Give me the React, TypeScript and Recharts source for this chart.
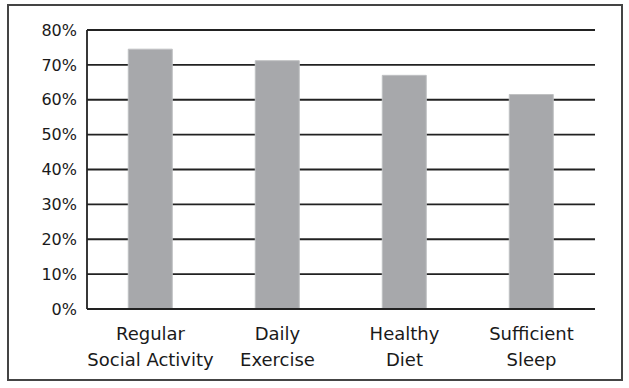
import React from "react";
import { BarChart, Bar, XAxis, YAxis, CartesianGrid } from "recharts";

const categories = ["Regular\nSocial Activity", "Daily\nExercise", "Healthy\nDiet", "Sufficient\nSleep"];
const values = [0.745, 0.712, 0.670, 0.615];
const yTicks = [0, 0.1, 0.2, 0.3, 0.4, 0.5, 0.6, 0.7, 0.8];

const data = categories.map((c, i) => ({ name: c, value: values[i] }));

const FONT = "'DejaVu Sans', Verdana, sans-serif";

const XTick = (props: any) => {
  const { x, y, payload } = props;
  const lines = String(payload.value).split("\n");
  return (
    <text x={x} y={y + 31} textAnchor="middle" fontFamily={FONT} fontSize={18} fill="#1a1a1a">
      {lines.map((l, i) => (
        <tspan key={i} x={x} dy={i === 0 ? 0 : 26}>
          {l}
        </tspan>
      ))}
    </text>
  );
};

export default function App() {
  return (
    <div style={{ position: "absolute", left: 0, top: 0, width: 629, height: 388, background: "#fff" }}>
      <div
        style={{
          position: "absolute",
          left: 7,
          top: 4,
          width: 616,
          height: 377,
          border: "2px solid #444",
          boxSizing: "border-box",
        }}
      />
      <div style={{ position: "absolute", left: 0, top: 0 }}>
        <BarChart
          width={629}
          height={388}
          data={data}
          margin={{ top: 30, right: 34, left: 7, bottom: 19 }}
          barCategoryGap="32.5%"
        >
          <CartesianGrid vertical={false} stroke="#222" strokeWidth={1.8} />
          <XAxis
            dataKey="name"
            interval={0}
            tickLine={false}
            axisLine={{ stroke: "#222", strokeWidth: 1.8 }}
            tickSize={0}
            tickMargin={0}
            height={60}
            tick={<XTick />}
          />
          <YAxis
            domain={[0, 0.8]}
            ticks={yTicks}
            tickFormatter={(v: number) => `${Math.round(v * 100)}%`}
            tickLine={false}
            axisLine={{ stroke: "#222", strokeWidth: 1.8 }}
            tickSize={0}
            tickMargin={10}
            width={80}
            tick={{ fontFamily: FONT, fontSize: 16, fill: "#1a1a1a" }}
          />
          <Bar dataKey="value" fill="#a7a8ab" stroke="#bfc0c2" strokeWidth={1} isAnimationActive={false} />
        </BarChart>
      </div>
    </div>
  );
}
